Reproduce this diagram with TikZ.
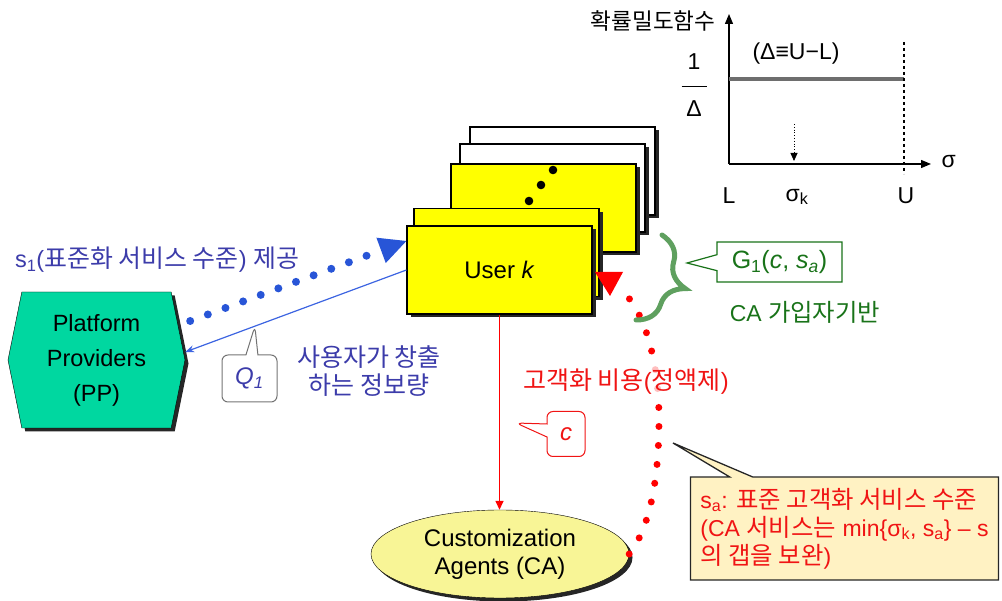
\documentclass[tikz,border=0pt]{standalone}
\usepackage{fontspec}
\setmainfont{Liberation Sans}
\newfontfamily\kr[Scale=1.06]{Noto Sans CJK KR}
\usetikzlibrary{positioning,calc,arrows.meta,shapes.geometric,shapes.symbols,shapes.callouts,shadows,decorations.pathreplacing}

\definecolor{ppgreen}{RGB}{0,215,160}
\definecolor{uyellow}{RGB}{255,255,0}
\definecolor{cayellow}{RGB}{248,245,150}
\definecolor{dotblue}{RGB}{40,85,215}
\definecolor{txtblue}{RGB}{60,60,170}
\definecolor{linblue}{RGB}{60,100,225}
\definecolor{txtred}{RGB}{240,20,20}
\definecolor{brgreen}{RGB}{95,160,95}
\definecolor{txtgreen}{RGB}{25,115,25}
\definecolor{notetan}{RGB}{255,242,195}
\definecolor{levgray}{RGB}{110,110,110}

\tikzstyle{shade} = [drop shadow={shadow xshift=3.5pt, shadow yshift=-3.5pt, opacity=1, fill=black!85}]
\tikzstyle{ubox} = [draw, rectangle, line width=1.2pt, minimum width=185pt, minimum height=88pt, shade]
\tikzstyle{uwhite} = [ubox, fill=white]
\tikzstyle{uyel} = [ubox, fill=uyellow, font=\fontsize{24}{28}\selectfont]
\tikzstyle{platform} = [draw, signal, signal to=west and east, signal pointer angle=157, fill=ppgreen, minimum width=177pt, minimum height=136pt, inner sep=0pt, align=center, shade, font=\fontsize{23.5}{35}\selectfont]
\tikzstyle{caell} = [draw, ellipse, fill=cayellow, minimum width=258pt, minimum height=88pt, inner sep=0pt, align=center, shade, font=\fontsize{24}{28}\selectfont]
\tikzstyle{axis} = [line width=1.3pt, -{Triangle[length=10pt,width=8pt]}]
\tikzstyle{bluedots} = [dotblue, line width=8pt, line cap=round, dash pattern=on 0pt off 18.8pt, -{Triangle[length=27pt,width=27pt,line width=0pt]}]
\tikzstyle{thinblue} = [linblue, line width=1.2pt, -{Stealth[length=9pt,width=7pt]}]
\tikzstyle{bluetxt} = [txtblue]
\tikzstyle{qcall} = [draw=black!55, line width=1pt, rectangle callout, rounded corners=6pt, callout pointer width=12pt, minimum width=55pt, minimum height=47pt, inner sep=0pt, text=txtblue, font=\fontsize{24}{28}\selectfont]
\tikzstyle{redline} = [red, line width=1.5pt, -{Triangle[length=9pt,width=8pt]}]
\tikzstyle{reddots} = [red, line width=7pt, line cap=round, dash pattern=on 0pt off 19pt]
\tikzstyle{ccall} = [draw=txtred, line width=1pt, rectangle callout, rounded corners=6pt, callout pointer width=13pt, minimum width=38pt, minimum height=45pt, inner sep=0pt, text=txtred, font=\fontsize{24}{28}\selectfont]
\tikzstyle{costlab} = [text=txtred, fill=white, fill opacity=0.75, text opacity=1, inner sep=4pt, font=\fontsize{23.6}{28}\selectfont]
\tikzstyle{tannote} = [draw=black!85, line width=1.3pt, fill=notetan, rectangle callout, callout pointer width=23pt, minimum width=308pt, minimum height=103pt, inner sep=0pt, align=left, text=txtred, font=\fontsize{23}{28}\selectfont]
\tikzstyle{gcall} = [draw=txtgreen, line width=1.2pt, fill=white, rectangle callout, callout pointer width=16pt, minimum width=125pt, minimum height=40pt, inner sep=0pt, text=txtgreen, font=\fontsize{25}{28}\selectfont]
\tikzstyle{brace} = [brgreen, line width=5pt, line cap=round, decorate, decoration={brace, amplitude=38pt}]

\begin{document}
\begin{tikzpicture}[x=1pt, y=-1pt, font=\fontsize{23}{27}\selectfont]
  \useasboundingbox (0,0) rectangle (1002,601);

  % density plot
  \coordinate (o) at (729,164);
  \coordinate (ytop) at (729,14);
  \coordinate (xend) at (931,164);
  \coordinate (lev_l) at (729,79);
  \coordinate (lev_r) at (904,79);
  \coordinate (u_top) at (904,42);
  \coordinate (u_bot) at (904,174);
  \coordinate (sk_top) at (794,124);
  \coordinate (sk_bot) at (794,161);

  \draw[axis] (o) -- (ytop);
  \draw[axis] (o) -- (xend);
  \draw[levgray, line width=3.5pt] (lev_l) -- (lev_r);
  \draw[dashed, line width=1.2pt] (u_top) -- (u_bot);
  \draw[dotted, line width=0.8pt, -{Triangle[length=8pt,width=7pt]}] (sk_top) -- (sk_bot);

  \node[anchor=east, font=\kr\fontsize{21.3}{24}\selectfont] (ylab) at (719,21) {확률밀도함수};
  \node[anchor=west] (sig) at (938,162) {σ};
  \node (lab_l) at (729,196) {L};
  \node (lab_u) at (906,196) {U};
  \node (lab_sk) at (797,197) {σ\textsubscript{k}};
  \node[align=center, inner sep=0pt] (frac) at (694,85) {1\\[-9pt]\rule{25pt}{1.3pt}\\[2pt]Δ};
  \node (dlt) at (796,54) {(Δ≡U−L)};

  % user stack
  \node[uwhite] (u5) at (562.5,171) {};
  \node[uwhite] (u4) at (552.5,188) {};
  \node[uyel] (u3) at (543.5,208) {};
  \node[uyel] (u2) at (506.5,252.5) {};
  \node[uyel] (u1) at (499.5,270) {User \textit{k}};
  \foreach \p in {(553,170),(541,185),(529,201)}
    \fill \p circle (4.3);

  \node[platform] (pp) at (96.5,360) {Platform\\Providers\\(PP)};
  \node[caell] (ca) at (500,554) {Customization\\Agents (CA)};

  % PP <-> user
  \coordinate (pp_in) at ($(pp.east)+(0,-8)$);
  \draw[bluedots] ($(pp.east)+(5,-39)$) -- ($(u1.west)+(0,-29)$);
  \draw[thinblue] (u1.west) -- (pp_in);
  \coordinate (qptr) at ($(u1.west)!0.685!(pp_in)$);
  \node[qcall, callout absolute pointer={(qptr)}] (q1) at (249.5,378.5) {\textit{Q\textsubscript{1}}};
  \node[bluetxt, font=\fontsize{23.5}{28}\selectfont] (s1lab) at (157,260) {s\textsubscript{1}({\kr 표준화 서비스 수준}) {\kr 제공}};
  \node[bluetxt, align=center, font=\kr\fontsize{23.6}{28}\selectfont] (qinfo) at (369,371) {사용자가 창출\\하는 정보량};

  % user -> CA
  \draw[redline] (u1.south) -- (u1.south |- ca.north);
  \coordinate (cptr) at (516,423);
  \node[ccall, callout absolute pointer={(cptr)}] (cnote) at (566,434) {\textit{c}};

  \coordinate (rtip) at (628,297);
  \draw[reddots] (ca.east) .. controls (650,528) and (659,478) .. (659,420) .. controls (659,368) and (648,322) .. (rtip);
  \fill[red] ($(rtip)+(-33,-25)$) -- ($(rtip)+(-5,-25)$) -- ($(rtip)+(-18,-1)$) -- cycle;
  \node[costlab] (cost) at (626,382) {{\kr 고객화 비용}({\kr 정액제})};

  \coordinate (nptr) at (673,443);
  \node[tannote, callout absolute pointer={(nptr)}] (sanote) at (844.5,528.5) {s\textsubscript{a}: {\kr 표준 고객화 서비스 수준}\\(CA {\kr 서비스는} min\{σ\textsubscript{k}, s\textsubscript{a}\} – s\\{\kr 의 갭을 보완})};

  % subscriber base
  \coordinate (br_a) at (662,235);
  \coordinate (br_b) at (636,320);
  \draw[brace] (br_a) -- (br_b);
  \coordinate (gptr) at (687,263);
  \node[gcall, callout absolute pointer={(gptr)}] (g1) at (779.5,262) {G\textsubscript{1}(\textit{c}, \textit{s\textsubscript{a}})};
  \node[text=txtgreen] (cabase) at (805,312) {CA {\kr 가입자기반}};

\end{tikzpicture}
\end{document}
